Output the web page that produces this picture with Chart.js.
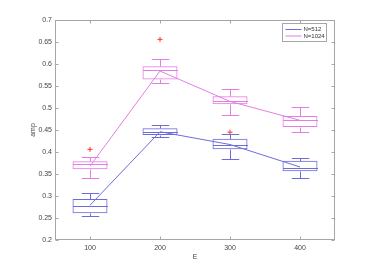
<!DOCTYPE html>
<html>
<head>
<meta charset="utf-8">
<script src="https://cdn.jsdelivr.net/npm/chart.js@4.4.1/dist/chart.umd.min.js"></script>
<style>
  html, body { margin: 0; padding: 0; background: #fff; }
  #wrap { width: 378px; height: 273px; }
</style>
</head>
<body>
<div id="wrap"><canvas id="meuGrafico"></canvas></div>
<script>
const categorias = ['100', '200', '300', '400'];
const rotulos = ['N=512', 'N=1024'];
const ticksY = [0.2, 0.25, 0.3, 0.35, 0.4, 0.45, 0.5, 0.55, 0.6, 0.65, 0.7];

// N=512
const min512 = [0.254, 0.433, 0.384, 0.341];
const q1_512 = [0.261, 0.4385, 0.406, 0.356];
const med512 = [0.2777, 0.445, 0.417, 0.364];
const q3_512 = [0.293, 0.454, 0.430, 0.380];
const max512 = [0.306, 0.461, 0.442, 0.387];
const media512 = [0.279, 0.446, 0.417, 0.366];
const outlier512 = [null, null, 0.445, null];

// N=1024
const min1024 = [0.341, 0.557, 0.485, 0.4445];
const q1_1024 = [0.361, 0.565, 0.5087, 0.457];
const med1024 = [0.372, 0.5856, 0.516, 0.4725];
const q3_1024 = [0.379, 0.595, 0.5267, 0.482];
const max1024 = [0.388, 0.612, 0.543, 0.5025];
const media1024 = [0.368, 0.584, 0.515, 0.472];
const outlier1024 = [0.406, 0.656, null, null];

const corAzul = '#6c6cdc';
const corMagenta = '#e47ce4';
const fonte = 'Liberation Sans, Arial, sans-serif';

const series = [
  { cor: corAzul, min: min512, q1: q1_512, med: med512, q3: q3_512, max: max512 },
  { cor: corMagenta, min: min1024, q1: q1_1024, med: med1024, q3: q3_1024, max: max1024 },
];

const caixas = {
  id: 'caixas',
  afterDatasetsDraw(chart) {
    const ctx = chart.ctx;
    const x = chart.scales.x;
    const y = chart.scales.y;
    const py = (v) => Math.round(y.getPixelForValue(v)) + 0.5;
    series.forEach((s, k) => {
      const meta = chart.getDatasetMeta(k);
      ctx.save();
      ctx.strokeStyle = s.cor;
      ctx.lineWidth = 1;
      ctx.beginPath();
      s.med.forEach((m, i) => {
        const cx = Math.round(x.getPixelForValue(i)) + 0.5;
        const meio = meta.data[i].width / 2;
        const aba = meio / 2;
        ctx.moveTo(cx - meio, py(m)); ctx.lineTo(cx + meio, py(m));
        ctx.moveTo(cx, py(s.max[i])); ctx.lineTo(cx, py(s.q3[i]));
        ctx.moveTo(cx, py(s.q1[i])); ctx.lineTo(cx, py(s.min[i]));
        ctx.moveTo(cx - aba, py(s.max[i])); ctx.lineTo(cx + aba, py(s.max[i]));
        ctx.moveTo(cx - aba, py(s.min[i])); ctx.lineTo(cx + aba, py(s.min[i]));
      });
      ctx.stroke();
      ctx.restore();
    });

    // moldura e marcas para dentro
    const { left, right, top, bottom } = chart.chartArea;
    const l = Math.round(left) + 0.5, r = Math.round(right) - 0.5;
    const t = Math.round(top) + 0.5, b = Math.round(bottom) - 0.5;
    ctx.save();
    ctx.strokeStyle = '#a6a6a6';
    ctx.lineWidth = 1;
    ctx.strokeRect(l, t, r - l, b - t);
    ctx.beginPath();
    y.ticks.forEach((tk) => {
      const yy = py(tk.value);
      ctx.moveTo(l, yy); ctx.lineTo(l + 3, yy);
      ctx.moveTo(r, yy); ctx.lineTo(r - 3, yy);
    });
    x.ticks.forEach((tk, i) => {
      const xx = Math.round(x.getPixelForValue(i)) + 0.5;
      ctx.moveTo(xx, b); ctx.lineTo(xx, b - 3);
      ctx.moveTo(xx, t); ctx.lineTo(xx, t + 3);
    });
    ctx.stroke();

    // legenda
    const lx = Math.round(right) - 52.5, ly = Math.round(top) + 3.5;
    ctx.fillStyle = '#fff';
    ctx.fillRect(lx, ly, 44, 18);
    ctx.strokeStyle = '#a6a6a6';
    ctx.strokeRect(lx, ly, 44, 18);
    ctx.font = '6px ' + fonte;
    ctx.textBaseline = 'middle';
    ctx.textAlign = 'left';
    [corAzul, corMagenta].forEach((c, i) => {
      const yy = ly + 6 + i * 6.5;
      ctx.strokeStyle = c;
      ctx.beginPath();
      ctx.moveTo(lx + 3, yy); ctx.lineTo(lx + 19, yy);
      ctx.stroke();
      ctx.fillStyle = '#333';
      ctx.fillText(rotulos[i], lx + 21, yy);
    });
    ctx.restore();
  },
};

function configurar() {
  const canvas = document.getElementById('meuGrafico');
  new Chart(canvas, {
    type: 'bar',
    data: {
      labels: categorias,
      datasets: [
        {
          label: rotulos[0],
          data: q1_512.map((v, i) => [v, q3_512[i]]),
          backgroundColor: 'rgba(0,0,0,0)',
          borderColor: corAzul,
          borderWidth: 1,
          borderSkipped: false,
          grouped: false,
          barPercentage: 0.5,
          categoryPercentage: 1,
        },
        {
          label: rotulos[1],
          data: q1_1024.map((v, i) => [v, q3_1024[i]]),
          backgroundColor: 'rgba(0,0,0,0)',
          borderColor: corMagenta,
          borderWidth: 1,
          borderSkipped: false,
          grouped: false,
          barPercentage: 0.5,
          categoryPercentage: 1,
        },
        {
          type: 'line',
          data: media512,
          borderColor: corAzul,
          borderWidth: 1,
          pointRadius: 0,
        },
        {
          type: 'line',
          data: media1024,
          borderColor: corMagenta,
          borderWidth: 1,
          pointRadius: 0,
        },
        {
          type: 'line',
          data: outlier512,
          showLine: false,
          pointStyle: 'cross',
          pointRadius: 2.5,
          borderColor: '#ff3030',
          borderWidth: 1,
        },
        {
          type: 'line',
          data: outlier1024,
          showLine: false,
          pointStyle: 'cross',
          pointRadius: 2.5,
          borderColor: '#ff3030',
          borderWidth: 1,
        },
      ],
    },
    options: {
      responsive: true,
      maintainAspectRatio: false,
      animation: false,
      layout: { padding: { left: 0, right: 43, top: 20, bottom: 0 } },
      plugins: {
        legend: { display: false },
        tooltip: { enabled: false },
      },
      scales: {
        x: {
          grid: { display: false, drawTicks: false },
          border: { display: false },
          ticks: { font: { size: 7, family: fonte }, color: '#444', padding: 4 },
          title: {
            display: true,
            text: 'E',
            font: { size: 7, family: fonte },
            color: '#444',
            padding: { top: 0, bottom: 12 },
          },
          afterFit: (s) => { s.height = 33; },
        },
        y: {
          min: 0.2,
          max: 0.7,
          afterBuildTicks: (s) => { s.ticks = ticksY.map((v) => ({ value: v })); },
          grid: { display: false, drawTicks: false },
          border: { display: false },
          ticks: {
            font: { size: 7, family: fonte },
            color: '#444',
            padding: 3,
            callback: (v) => String(Number(v.toFixed(2))),
          },
          title: {
            display: true,
            text: 'amp',
            font: { size: 7, family: fonte },
            color: '#444',
            padding: { top: 29, bottom: 0 },
          },
          afterFit: (s) => { s.width = 55; },
        },
      },
    },
    plugins: [caixas],
  });
}

document.addEventListener('DOMContentLoaded', configurar);
</script>
</body>
</html>
